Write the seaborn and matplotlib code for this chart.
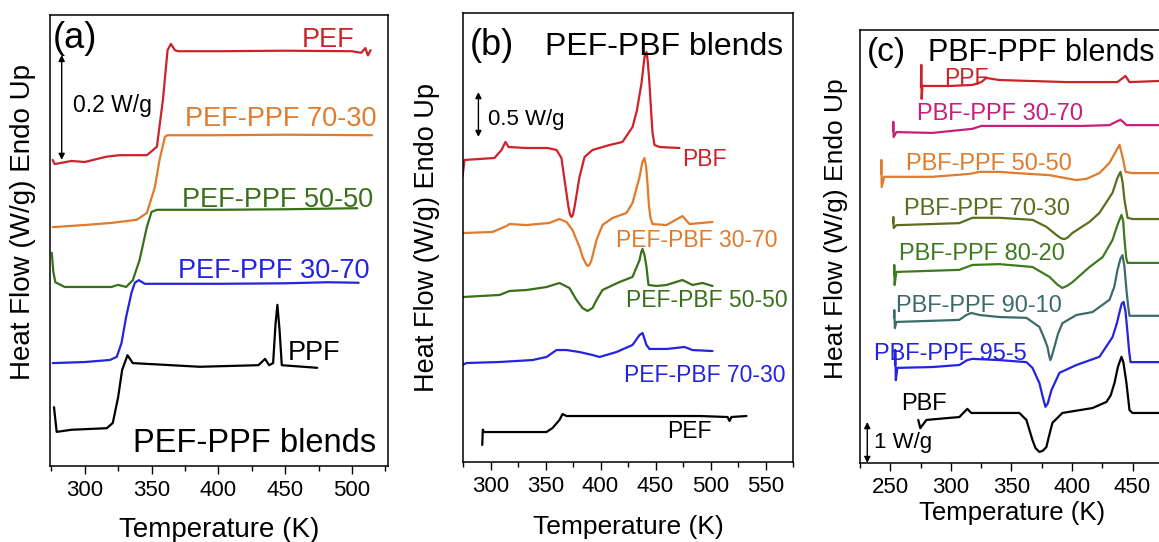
import matplotlib
matplotlib.use("Agg")
import matplotlib.pyplot as plt
from matplotlib.ticker import MultipleLocator
import seaborn as sns

# ---------------- (a) PEF-PPF blends ----------------
A_PEF_T = [276, 277.5, 290, 300, 316, 326, 346.5, 354, 358.5, 362, 364.5, 367.5, 370, 400, 450, 500, 507, 510, 512, 514]
A_PEF_HF = [0.583, 0.575, 0.581, 0.579, 0.589, 0.592, 0.592, 0.608, 0.697, 0.792, 0.804, 0.792, 0.790, 0.790, 0.791, 0.790, 0.787, 0.796, 0.782, 0.792]
A_7030_T = [276, 300, 320, 339, 346.5, 352.5, 356, 360, 362, 400, 450, 515]
A_7030_HF = [0.455, 0.459, 0.463, 0.469, 0.482, 0.531, 0.583, 0.627, 0.630, 0.630, 0.631, 0.630]
A_5050_T = [275.3, 276.5, 278, 285, 300, 320, 325, 331, 336, 341, 346.5, 350, 354, 400, 450, 504]
A_5050_HF = [0.406, 0.370, 0.350, 0.341, 0.341, 0.341, 0.345, 0.341, 0.354, 0.392, 0.455, 0.484, 0.488, 0.488, 0.489, 0.491]
A_3070_T = [276, 300, 319, 324, 327.5, 331, 335, 337.5, 340.5, 345, 400, 450, 482, 505]
A_3070_HF = [0.196, 0.198, 0.202, 0.208, 0.234, 0.284, 0.330, 0.349, 0.354, 0.347, 0.347, 0.348, 0.350, 0.349]
A_PPF_T = [277, 279, 290, 316.5, 321, 325, 328, 332, 336, 386, 430, 435, 438, 441, 442.8, 444.2, 445.8, 447.5, 474]
A_PPF_HF = [0.112, 0.065, 0.069, 0.072, 0.082, 0.131, 0.183, 0.211, 0.196, 0.189, 0.192, 0.204, 0.192, 0.196, 0.27, 0.307, 0.26, 0.192, 0.187]

# ---------------- (b) PEF-PBF blends ----------------
B_PBF_T = [274.5, 276.4, 290, 303.6, 310, 313.6, 316.4, 332.7, 351.8, 360, 364.5, 367.3, 370.9, 372.3, 373.6, 375, 376.4,
           380.9, 385.5, 392.7, 408.2, 420, 429.1, 433, 437.3, 440, 441.8, 443, 444.5, 446, 447.3, 449.1, 453.6, 471.8]
B_PBF_HF = [3.167, 3.356, 3.367, 3.378, 3.467, 3.556, 3.5, 3.489, 3.489, 3.467, 3.378, 3.133, 2.833, 2.75, 2.722, 2.75,
            2.833, 3.167, 3.389, 3.467, 3.522, 3.556, 3.722, 3.9, 4.211, 4.5, 4.556, 4.45, 4.211, 3.9, 3.656, 3.522, 3.5, 3.489]
B_3070_T = [274.5, 301.8, 314.5, 317.3, 332.7, 353.6, 362.7, 369.1, 374.5, 380.9, 384, 386.4, 388.2, 390, 391.8, 394,
            396.4, 401.8, 410.9, 423.6, 429.1, 435.5, 438, 440, 441.5, 442.7, 444, 445.5, 447.3, 460, 474.5, 480.9, 501.8]
B_3070_HF = [2.544, 2.556, 2.622, 2.644, 2.633, 2.656, 2.7, 2.667, 2.578, 2.389, 2.27, 2.211, 2.178, 2.19, 2.244, 2.35,
             2.467, 2.633, 2.711, 2.767, 2.878, 3.167, 3.33, 3.378, 3.28, 3.1, 2.85, 2.711, 2.644, 2.633, 2.733, 2.644, 2.667]
B_5050_T = [274.5, 308.2, 317.3, 332.7, 350.9, 362.7, 371.8, 378.2, 383.6, 388.2, 392.7, 396.4, 401.8, 417.3, 429.1,
            435.5, 437, 438.2, 440, 441.8, 443.6, 450.9, 460, 474.5, 483.6, 492.7, 501.8]
B_5050_HF = [1.833, 1.856, 1.9, 1.911, 1.944, 1.989, 1.933, 1.8, 1.711, 1.678, 1.711, 1.8, 1.911, 2.0, 2.056,
             2.244, 2.33, 2.367, 2.3, 2.167, 1.967, 1.956, 1.967, 2.022, 1.967, 1.989, 1.956]
B_7030_T = [274.5, 278.2, 308.2, 338.2, 350.9, 360, 369.1, 380.9, 392.7, 399.1, 414.5, 429.1, 435.5, 438.2, 441.8,
            444.5, 460, 476.4, 483.6, 501.8]
B_7030_HF = [1.078, 1.1, 1.111, 1.133, 1.167, 1.244, 1.244, 1.222, 1.189, 1.167, 1.222, 1.3, 1.411, 1.433, 1.3,
             1.256, 1.256, 1.278, 1.244, 1.233]
B_PEF_T = [292.5, 293, 294, 299.1, 350.9, 356.4, 362.7, 365.5, 369.1, 399.1, 490, 515.5, 517.3, 519, 532.7]
B_PEF_HF = [0.19, 0.36, 0.333, 0.333, 0.333, 0.378, 0.467, 0.533, 0.511, 0.511, 0.511, 0.5, 0.456, 0.5, 0.511]

# ---------------- (c) PBF-PPF blends ----------------
C_PPF_T = [275.3, 275.6, 275.9, 276.6, 279.8, 298.8, 317.8, 325.2, 329.3, 333.5, 340.1, 395.5, 437.6, 444.2, 447.5, 476]
C_PPF_HF = [9.17, 9.71, 8.88, 9.2, 9.195, 9.195, 9.22, 9.29, 9.39, 9.37, 9.34, 9.29, 9.29, 9.44, 9.29, 9.32]
C_3070_T = [252.3, 252.5, 252.8, 255, 284.7, 317.8, 325.2, 340.1, 408.7, 431, 437, 440.1, 443, 445, 476]
C_3070_HF = [8.1, 8.32, 7.95, 8.07, 8.05, 8.15, 8.22, 8.22, 8.22, 8.24, 8.33, 8.37, 8.3, 8.24, 8.24]
C_5050_T = [242.4, 242.6, 242.9, 245, 284.7, 315.3, 323.6, 340.1, 354.1, 381.4, 403.7, 412, 422.7, 431, 436.8, 439.3,
            441.8, 444.3, 450, 476]
C_5050_HF = [7.05, 7.39, 6.73, 6.98, 6.98, 7.05, 7.10, 7.10, 7.07, 7.02, 6.90, 6.93, 7.07, 7.32, 7.63, 7.76,
             7.46, 7.10, 7.07, 7.07]
C_7030_T = [252.3, 252.5, 252.8, 255, 307, 317.8, 340.1, 367.4, 378.9, 387.2, 391, 393.8, 396.5, 400.4, 414.5, 422.7,
            433.5, 437.5, 440.1, 441.8, 443.4, 445.9, 450, 476]
C_7030_HF = [5.85, 6.0, 5.73, 5.80, 5.85, 5.98, 5.98, 5.93, 5.76, 5.56, 5.48, 5.46, 5.5, 5.61, 5.88, 6.10,
             6.59, 6.95, 7.10, 6.85, 6.41, 5.98, 5.95, 5.95]
C_8020_T = [253.1, 253.3, 253.6, 255, 307, 317.8, 340.1, 367.4, 381.4, 388, 392.1, 396, 400.4, 414.5, 425.3, 433.5,
            437.5, 440.9, 442.3, 443.4, 444.8, 445.9, 476]
C_8020_HF = [4.6, 4.83, 4.34, 4.66, 4.71, 4.83, 4.85, 4.78, 4.54, 4.35, 4.27, 4.32, 4.41, 4.78, 5.02, 5.44,
             5.8, 6.05, 5.9, 5.44, 5.0, 4.88, 4.88]
C_9010_T = [253.1, 253.3, 253.8, 255, 307, 312.8, 316.9, 323.6, 340.1, 362.4, 373.1, 377, 379.8, 381.3, 382.2, 383.3,
            385.5, 388.5, 392.1, 403.7, 416.9, 431, 435, 437.6, 440, 441.7, 443.3, 445, 446.5, 447.5, 476]
C_9010_HF = [3.55, 3.73, 3.29, 3.44, 3.49, 3.61, 3.66, 3.61, 3.56, 3.54, 3.32, 3.05, 2.83, 2.6, 2.51, 2.6,
             2.83, 3.15, 3.41, 3.61, 3.68, 3.98, 4.3, 4.71, 4.98, 5.07, 4.8, 4.22, 3.8, 3.59, 3.59]
C_955_T = [253.9, 254.1, 254.6, 255.8, 284.7, 307, 313.6, 317.8, 340.1, 362.4, 367.4, 373.1, 376, 378.1, 380, 383.1,
           389.7, 403.7, 422.7, 433.5, 437, 439.3, 441, 442.6, 444.2, 445.9, 447.3, 448.4, 476]
C_955_HF = [2.4, 2.76, 2.02, 2.32, 2.34, 2.39, 2.51, 2.54, 2.51, 2.46, 2.32, 1.95, 1.6, 1.37, 1.45, 1.78,
            2.20, 2.39, 2.59, 3.07, 3.4, 3.68, 3.88, 3.93, 3.7, 3.17, 2.7, 2.46, 2.46]
C_PBF_T = [273.1, 274.8, 279.8, 298.8, 307, 313.6, 316.9, 340.1, 356.6, 362.4, 367.4, 370, 373.1, 376, 378.9, 381,
           383.9, 392.1, 416.9, 428.5, 432, 435.1, 438, 440.9, 442.5, 445, 447.5, 450, 476]
C_PBF_HF = [1.05, 0.85, 1.05, 1.10, 1.12, 1.32, 1.22, 1.22, 1.22, 1.05, 0.56, 0.36, 0.27, 0.3, 0.39, 0.65,
            0.98, 1.22, 1.34, 1.49, 1.65, 1.95, 2.35, 2.59, 2.45, 1.95, 1.29, 1.22, 1.22]

RED = "#cc2229"
ORANGE = "#e07b2c"
GREEN = "#38701a"
BLUE = "#2323e0"
MAGENTA = "#c81e7a"
OLIVE = "#5a6e1e"
GREEN2 = "#3e7a1f"
TEAL = "#3d6b6b"

sns.set_style("ticks")
plt.rcParams["font.family"] = ["Liberation Sans", "DejaVu Sans"]
plt.rcParams.update({
    "axes.linewidth": 1.1,
    "axes.edgecolor": "black",
    "text.color": "black",
    "axes.labelcolor": "black",
    "xtick.color": "black",
    "xtick.direction": "out",
    "xtick.major.size": 6,
    "xtick.minor.size": 3.5,
    "xtick.major.width": 1.0,
    "xtick.minor.width": 1.0,
    "xtick.major.pad": 4,
    "xtick.labelsize": 16,
})

fig = plt.figure(figsize=(11.59, 5.42), dpi=100)
ax_a = fig.add_axes([50 / 1159, 76 / 542, 338 / 1159, 451 / 542])
ax_b = fig.add_axes([463 / 1159, 80 / 542, 330 / 1159, 449 / 542])
ax_c = fig.add_axes([860 / 1159, 79 / 542, 304 / 1159, 433 / 542])


def trace(ax, T, HF, color):
    sns.lineplot(x=T, y=HF, ax=ax, color=color, lw=1.6, sort=False, estimator=None)


def frame(ax, xlim, ylim, xlabel_size, ylabel_size, ylab_xy, xlab_y):
    ax.set_xlim(*xlim)
    ax.set_ylim(*ylim)
    ax.xaxis.set_major_locator(MultipleLocator(50))
    ax.xaxis.set_minor_locator(MultipleLocator(25))
    ax.set_yticks([])
    ax.set_xlabel("Temperature (K)", fontsize=xlabel_size, va="top")
    ax.xaxis.set_label_coords(0.5, xlab_y)
    ax.set_ylabel("Heat Flow (W/g) Endo Up", fontsize=ylabel_size, va="center")
    ax.yaxis.set_label_coords(*ylab_xy)
    for s in ax.spines.values():
        s.set_visible(True)


def scale_bar(ax, x, y0, y1):
    ax.annotate("", xy=(x, y1), xytext=(x, y0),
                arrowprops=dict(arrowstyle="<|-|>", color="k", lw=1.0, mutation_scale=9,
                                shrinkA=0, shrinkB=0))


# (a)
trace(ax_a, A_PEF_T, A_PEF_HF, RED)
trace(ax_a, A_7030_T, A_7030_HF, ORANGE)
trace(ax_a, A_5050_T, A_5050_HF, GREEN)
trace(ax_a, A_3070_T, A_3070_HF, BLUE)
trace(ax_a, A_PPF_T, A_PPF_HF, "black")
frame(ax_a, (274, 527), (0, 0.859), 20, 20, (-0.080, 0.542), -0.113)
scale_bar(ax_a, 282.75, 0.583, 0.783)
ax_a.text(291, 0.674, "0.2 W/g", fontsize=16.5, va="baseline")
ax_a.text(0.008, 0.927, "(a)", transform=ax_a.transAxes, fontsize=26, va="baseline")
ax_a.text(462.5, 0.798, "PEF", color=RED, fontsize=19.5, va="baseline")
ax_a.text(375, 0.648, "PEF-PPF 70-30", color=ORANGE, fontsize=19.5, va="baseline")
ax_a.text(372.5, 0.493, "PEF-PPF 50-50", color=GREEN, fontsize=19.5, va="baseline")
ax_a.text(369.5, 0.358, "PEF-PPF 30-70", color=BLUE, fontsize=19.5, va="baseline")
ax_a.text(452, 0.202, "PPF", color="black", fontsize=19.5, va="baseline")
ax_a.text(336, 0.027, "PEF-PPF blends", color="black", fontsize=23.5, va="baseline")

# (b)
trace(ax_b, B_PBF_T, B_PBF_HF, RED)
trace(ax_b, B_3070_T, B_3070_HF, ORANGE)
trace(ax_b, B_5050_T, B_5050_HF, GREEN)
trace(ax_b, B_7030_T, B_7030_HF, BLUE)
trace(ax_b, B_PEF_T, B_PEF_HF, "black")
frame(ax_b, (275, 575), (0, 4.989), 19, 19.5, (-0.109, 0.5), -0.118)
scale_bar(ax_b, 289, 3.611, 4.111)
ax_b.text(297.3, 3.744, "0.5 W/g", fontsize=16, va="baseline")
ax_b.text(0.021, 0.906, "(b)", transform=ax_b.transAxes, fontsize=26, va="baseline")
ax_b.text(0.248, 0.906, "PEF-PBF blends", transform=ax_b.transAxes, fontsize=23, va="baseline")
ax_b.text(474.5, 3.289, "PBF", color=RED, fontsize=16.5, va="baseline")
ax_b.text(414.5, 2.393, "PEF-PBF 30-70", color=ORANGE, fontsize=16.5, va="baseline")
ax_b.text(423.6, 1.726, "PEF-PBF 50-50", color=GREEN, fontsize=16.5, va="baseline")
ax_b.text(421.8, 0.893, "PEF-PBF 70-30", color=BLUE, fontsize=16.5, va="baseline")
ax_b.text(461, 0.267, "PEF", color="black", fontsize=16.5, va="baseline")

# (c)
trace(ax_c, C_PPF_T, C_PPF_HF, RED)
trace(ax_c, C_3070_T, C_3070_HF, MAGENTA)
trace(ax_c, C_5050_T, C_5050_HF, ORANGE)
trace(ax_c, C_7030_T, C_7030_HF, OLIVE)
trace(ax_c, C_8020_T, C_8020_HF, GREEN2)
trace(ax_c, C_9010_T, C_9010_HF, TEAL)
trace(ax_c, C_955_T, C_955_HF, BLUE)
trace(ax_c, C_PBF_T, C_PBF_HF, "black")
frame(ax_c, (225, 476), (0, 10.56), 18.5, 19, (-0.080, 0.542), -0.088)
scale_bar(ax_c, 231, 0.0, 1.0)
ax_c.text(236.9, 0.37, "1 W/g", fontsize=16, va="baseline")
ax_c.text(0.023, 0.928, "(c)", transform=ax_c.transAxes, fontsize=24, va="baseline")
ax_c.text(0.224, 0.928, "PBF-PPF blends", transform=ax_c.transAxes, fontsize=22, va="baseline")
ax_c.text(294.6, 9.22, "PPF", color=RED, fontsize=16.5, va="baseline")
ax_c.text(272.3, 8.37, "PBF-PPF 30-70", color=MAGENTA, fontsize=17, va="baseline")
ax_c.text(263.2, 7.15, "PBF-PPF 50-50", color=ORANGE, fontsize=17, va="baseline")
ax_c.text(261.6, 6.05, "PBF-PPF 70-30", color=OLIVE, fontsize=17, va="baseline")
ax_c.text(257.4, 4.95, "PBF-PPF 80-20", color=GREEN2, fontsize=17, va="baseline")
ax_c.text(255, 3.69, "PBF-PPF 90-10", color=TEAL, fontsize=17, va="baseline")
ax_c.text(236.8, 2.51, "PBF-PPF 95-5", color=BLUE, fontsize=17, va="baseline")
ax_c.text(259, 1.29, "PBF", color="black", fontsize=17, va="baseline")

fig.savefig("out.png", dpi=100)
plt.close(fig)
